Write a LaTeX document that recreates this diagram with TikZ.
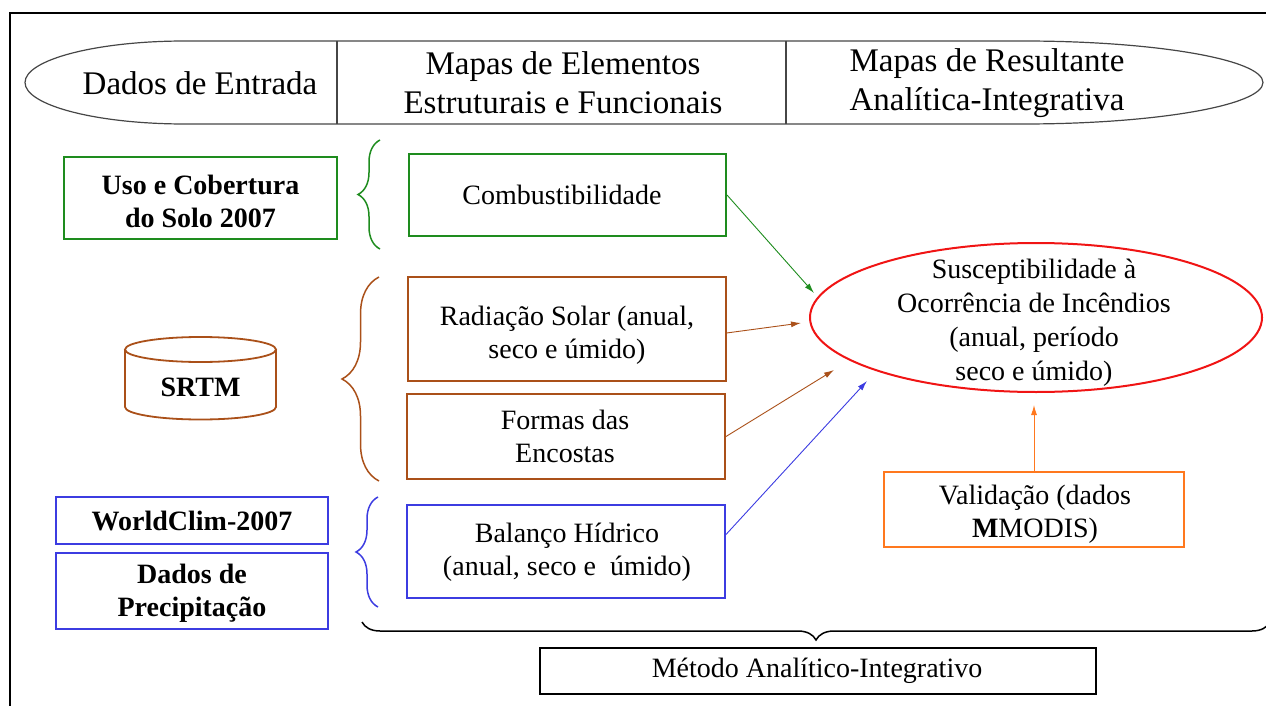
\documentclass[tikz,border=0pt]{standalone}
\usepackage{fontspec}
\setmainfont{Liberation Serif}
\usetikzlibrary{shapes.geometric,decorations.pathreplacing,arrows.meta,calc}
\definecolor{cgreen}{RGB}{30,140,30}
\definecolor{cbrown}{RGB}{170,80,25}
\definecolor{cblue}{RGB}{60,60,225}
\definecolor{cred}{RGB}{240,20,20}
\definecolor{corange}{RGB}{255,120,30}
\definecolor{cgray}{RGB}{70,70,70}
\begin{document}
\begin{tikzpicture}[x=1pt,y=-1pt,
  hdr/.style={font=\fontsize{33}{39}\selectfont, align=center, inner sep=0pt},
  txt/.style={font=\fontsize{28}{33}\selectfont, align=center, inner sep=0pt},
  btxt/.style={font=\fontsize{28}{33}\selectfont\bfseries, align=center, inner sep=0pt},
  box/.style={draw=#1, line width=2pt, inner sep=0pt, rectangle},
  brc/.style={decorate, decoration={brace, amplitude=#1}, line width=1.5pt},
  arr/.style={-{Latex[length=10pt,width=6pt]}, line width=0.9pt},
]
\useasboundingbox (0,0) rectangle (1266,706);
% frame
\draw[line width=2.5pt] (10,710) -- (10,13) -- (1270,13);
% header shape
\draw[cgray, line width=1.2pt] (185,41) -- (1023,41)
  .. controls (1155.6,41) and (1263,59.6) .. (1263,82.5)
  .. controls (1263,105.4) and (1155.6,124) .. (1023,124)
  -- (185,124)
  .. controls (96.6,124) and (25,105.4) .. (25,82.5)
  .. controls (25,59.6) and (96.6,41) .. (185,41) -- cycle;
\draw[cgray, line width=1.2pt] (337,41) -- (337,124);
\draw[cgray, line width=1.2pt] (786,41) -- (786,124);
\node[hdr] (h1) at (200,83) {Dados de Entrada};
\node[hdr] (h2) at (563,83) {Mapas de Elementos\\Estruturais e Funcionais};
\node[hdr] (h3) at (987,83) {Mapas de Resultante\\Analítica-Integrativa};

% input boxes
\node[box=cgreen, minimum width=273pt, minimum height=82pt] (uso) at (200.5,198) {};
\node[btxt] (usot) at (200.5,201) {Uso e Cobertura\\do Solo 2007};

\node[btxt] (srtm) at (200.5,387) {SRTM};
\draw[cbrown, line width=1.8pt] (200.5,349.5) ellipse [x radius=75.5, y radius=12.5];
\draw[cbrown, line width=1.8pt] (125,349.5) -- (125,407)
  .. controls (125,413.9) and (158.8,419.5) .. (200.5,419.5)
  .. controls (242.2,419.5) and (276,413.9) .. (276,407) -- (276,349.5);

\node[box=cblue, minimum width=272pt, minimum height=47pt] (wc) at (192,520.5) {};
\node[btxt] (wct) at (192,521) {WorldClim-2007};
\node[box=cblue, minimum width=272pt, minimum height=76pt] (prec) at (192,591) {};
\node[btxt] (prect) at (192,593) {Dados de\\Precipitação};

% braces
\draw[brc=22pt, cgreen] (380,249) -- (380,140);
\draw[brc=37pt, cbrown] (379,481) -- (379,277);
\draw[brc=22pt, cblue] (378,607) -- (378,497);
\draw[brc=18pt, black] (1270,622) -- (362,622);

% middle boxes
\node[box=cgreen, minimum width=317pt, minimum height=82pt] (comb) at (567.5,195) {};
\node[txt] (combt) at (562,195) {Combustibilidade};
\node[box=cbrown, minimum width=318pt, minimum height=104pt] (rad) at (566.5,329) {};
\node[txt] (radt) at (567,335) {Radiação Solar (anual,\\seco e úmido)};
\node[box=cbrown, minimum width=318pt, minimum height=85pt] (form) at (566,436.5) {};
\node[txt] (formt) at (565,436) {Formas das\\Encostas};
\node[box=cblue, minimum width=318pt, minimum height=93pt] (bal) at (566,551.5) {};
\node[txt] (balt) at (567,552.5) {Balanço Hídrico\\(anual, seco e \ úmido)};

% result
\node[ellipse, draw=cred, line width=2pt, minimum width=452pt, minimum height=149pt, inner sep=0pt] (sus) at (1036,317.5) {};
\node[txt, font=\fontsize{28}{34}\selectfont] (sust) at (1034,323) {Susceptibilidade à\\Ocorrência de Incêndios\\(anual, período\\seco e úmido)};

\node[box=corange, minimum width=300pt, minimum height=75pt] (val) at (1034,509.5) {};
\node[txt] (valt) at (1035,514.5) {Validação (dados\\\textbf{M}MODIS)};

\node[box=black, line width=1.5pt, minimum width=556pt, minimum height=46pt] (met) at (818,671) {};
\node[txt] (mett) at (817,671) {Método Analítico-Integrativo};

% arrows
\coordinate (gend) at (814,293);
\coordinate (b1end) at (801,323);
\coordinate (b2end) at (834,370);
\coordinate (blend) at (867,381);
\coordinate (oend) at (1034,405);
\draw[arr, cgreen] (comb.east) -- (gend);
\draw[arr, cbrown] ($(rad.east)+(0,4)$) -- (b1end);
\draw[arr, cbrown] (form.east) -- (b2end);
\draw[arr, cblue] ($(bal.east)+(0,-17)$) -- (blend);
\draw[arr, corange] (val.north) -- (oend);
\end{tikzpicture}
\end{document}
